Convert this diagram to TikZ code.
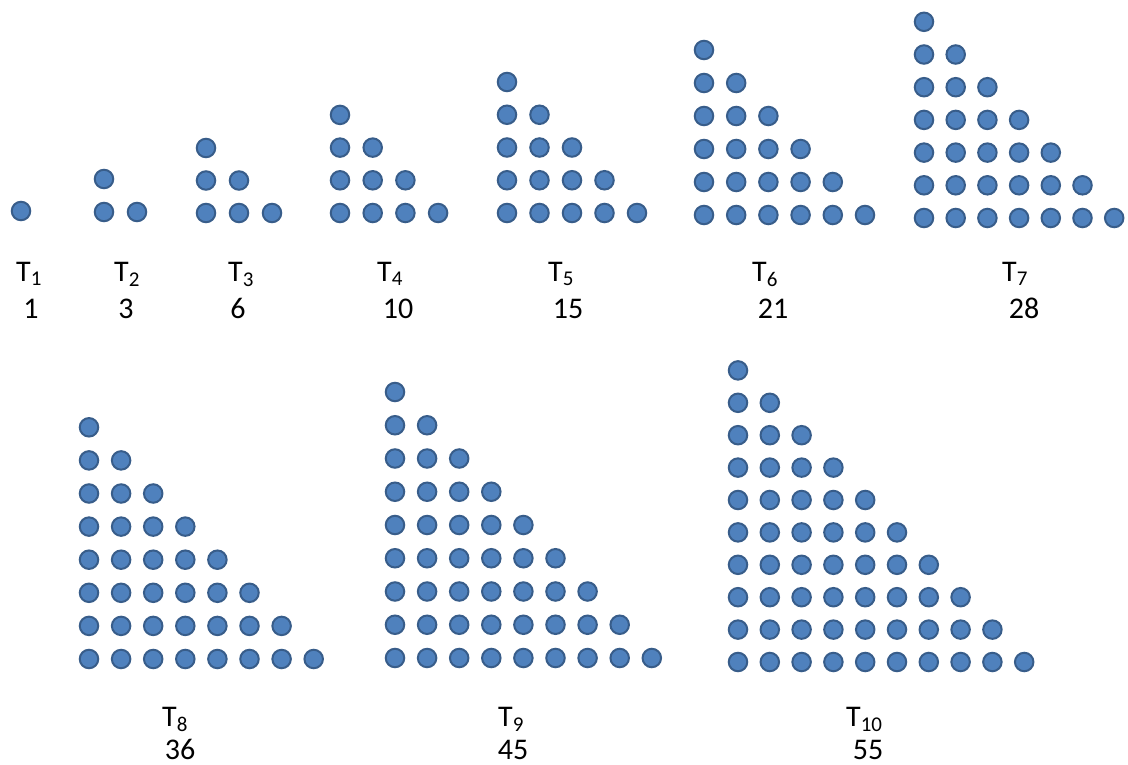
\documentclass[tikz,border=0pt]{standalone}
\usepackage{fontspec}
\setmainfont{Carlito}
\definecolor{dotfill}{RGB}{79,129,189}
\definecolor{dotedge}{RGB}{56,93,138}
\begin{document}
\begin{tikzpicture}[x=1pt,y=-1pt,
  dot/.style={circle,minimum size=18.5pt,inner sep=0pt,fill=dotfill,draw=dotedge,line width=2pt},
  lbl/.style={anchor=base west,inner sep=0pt,font=\fontsize{30}{32}\selectfont},
  num/.style={anchor=base,inner sep=0pt,font=\fontsize{30}{32}\selectfont}]
\useasboundingbox (0,0) rectangle (1128,765);
\foreach \n/\xo/\yb/\dx/\dy in {1/21/211/33/33, 2/104/212/33/33, 3/206/213/33/32.5,
  4/340/213/32.7/32.7, 5/507/213/32.5/32.75, 6/704/215/32.2/33, 7/924/218/31.7/32.7,
  8/89/659/32.1/33.1, 9/395/658/32.1/33.25, 10/738/662/31.8/32.4}{
  \foreach \i in {1,...,\n}{
    \foreach \j in {1,...,\i}{
      \node[dot] (d\n-\i-\j) at ({\xo+(\j-1)*\dx},{\yb-(\n-\i)*\dy}) {};
    }
  }
}
\foreach \n/\xt/\yt/\xn/\yn/\v in {1/16/281/31/318/1, 2/114/281/126/318/3, 3/228/281/238/318/6,
  4/377/281/398/318/10, 5/548/281/568/318/15, 6/752/281/773/318/21, 7/1002/281/1024/318/28,
  8/162/726/180/759/36, 9/498/726/513/759/45, 10/846/726/868/759/55}{
  \node[lbl] (t\n) at (\xt,\yt) {T\textsubscript{\n}};
  \node[num] (v\n) at (\xn,\yn) {\v};
}
\end{tikzpicture}
\end{document}
